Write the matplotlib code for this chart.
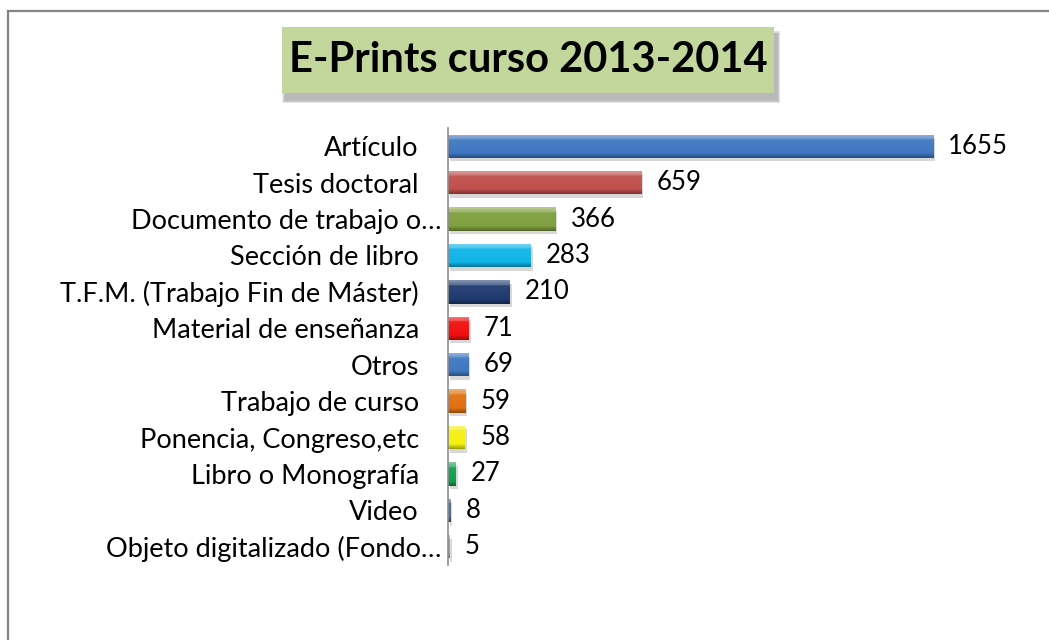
import numpy as np
import matplotlib
matplotlib.use("Agg")
import matplotlib.pyplot as plt
import matplotlib.patheffects as pe
from matplotlib.colors import to_rgb
from matplotlib.patches import Rectangle
from matplotlib.lines import Line2D

# -------------------------------
# Data
# -------------------------------
categories = [
    "Artículo",
    "Tesis doctoral",
    "Documento de trabajo o…",
    "Sección de libro",
    "T.F.M. (Trabajo Fin de Máster)",
    "Material de enseñanza",
    "Otros",
    "Trabajo de curso",
    "Ponencia, Congreso,etc",
    "Libro o Monografía",
    "Video",
    "Objeto digitalizado (Fondo…",
]
values = [1655, 659, 366, 283, 210, 71, 69, 59, 58, 27, 8, 5]
bar_colors = [
    "#3F77C0", "#C0504D", "#7F9F3F", "#10B4E8", "#1F3A70", "#F01010",
    "#3F77C0", "#E0700F", "#F4F010", "#10A050", "#4F6A90", "#8EA4BE",
]
title = "E-Prints curso 2013-2014"

FONT = ["Lato", "DejaVu Sans"]
plt.rcParams["font.family"] = FONT

W, H = 1049, 640
fig = plt.figure(figsize=(W / 100, H / 100), dpi=100)

# axes placed in pixel positions of the reference
ax_l, ax_r, ax_t, ax_b = 448, 1040, 128, 565
ax = fig.add_axes([ax_l / W, 1 - ax_b / H, (ax_r - ax_l) / W, (ax_b - ax_t) / H])

y = np.arange(len(categories))
bar_h = 0.64
bars = ax.barh(y, values, height=bar_h, color=bar_colors, zorder=2,
               edgecolor="none")


def shade(c, f):
    c = np.array(to_rgb(c))
    if f >= 0:
        return c + (1 - c) * f
    return c * (1 + f)


# bevel-like gradient on each bar, with a soft shadow
for b, c, v, yi in zip(bars, bar_colors, values, y):
    b.set_path_effects([pe.SimplePatchShadow(offset=(1.5, -2.5), alpha=0.22,
                                             shadow_rgbFace="#505050"),
                        pe.Normal()])
    stops = np.linspace(0, 1, 40)
    grad = np.zeros((40, 1, 3))
    for i, s in enumerate(stops):
        if s < 0.22:
            grad[i, 0] = shade(c, 0.45 - s)
        elif s > 0.8:
            grad[i, 0] = shade(c, -0.35 * (s - 0.8) / 0.2)
        else:
            grad[i, 0] = shade(c, 0.1 * (0.8 - s))
    im = ax.imshow(grad, aspect="auto", origin="upper",
                   extent=(0, v, yi + bar_h / 2, yi - bar_h / 2),
                   zorder=3, interpolation="bilinear")
    im.set_clip_path(b)
    ax.annotate(str(v), (v, yi), xytext=(11, 0), textcoords="offset points",
                va="center", ha="left", fontsize=18.5, color="#000000")

ax.set_xlim(0, 2020)
ax.set_ylim(len(categories) - 0.5, -0.5)
ax.set_yticks(y, categories, fontsize=19.5)
ax.tick_params(axis="y", length=0, pad=21)
for i, lab in enumerate(categories):
    if lab.endswith("…"):
        ax.yaxis.get_major_ticks()[i].set_pad(5)
ax.set_xticks([])
for s in ["top", "right", "bottom"]:
    ax.spines[s].set_visible(False)
ax.spines["left"].set_color("#8C8C8C")
ax.spines["left"].set_linewidth(1.2)
ax.spines["left"].set_zorder(5)

# title box with blurred shadow
bx0, bx1, by0, by1 = 282, 774, 27, 93
for k in range(6):
    grow = 6 - k
    fig.patches.append(Rectangle(((bx0 + 3 - grow * 0.5) / W, 1 - (by1 + 7 + grow * 0.5) / H),
                                 (bx1 - bx0 + grow) / W, (by1 - by0 + grow) / H,
                                 transform=fig.transFigure, facecolor="#808080",
                                 alpha=0.12, edgecolor="none", zorder=1))
fig.patches.append(Rectangle((bx0 / W, 1 - by1 / H), (bx1 - bx0) / W, (by1 - by0) / H,
                             transform=fig.transFigure, facecolor="#C3D69B",
                             edgecolor="none", zorder=2))
fig.text((bx0 + bx1) / 2 / W, 1 - (by0 + by1) / 2 / H, title, ha="center",
         va="center", fontsize=30, fontweight="bold", color="#000000", zorder=3)

# chart area border (top and left edges visible)
fig.lines.append(Line2D([7.5 / W, 1], [1 - 10.5 / H, 1 - 10.5 / H],
                        transform=fig.transFigure, color="#858585", lw=1.6))
fig.lines.append(Line2D([7.5 / W, 7.5 / W], [1 - 10.5 / H, 0],
                        transform=fig.transFigure, color="#858585", lw=1.6))

fig.savefig("out.png", dpi=100)
